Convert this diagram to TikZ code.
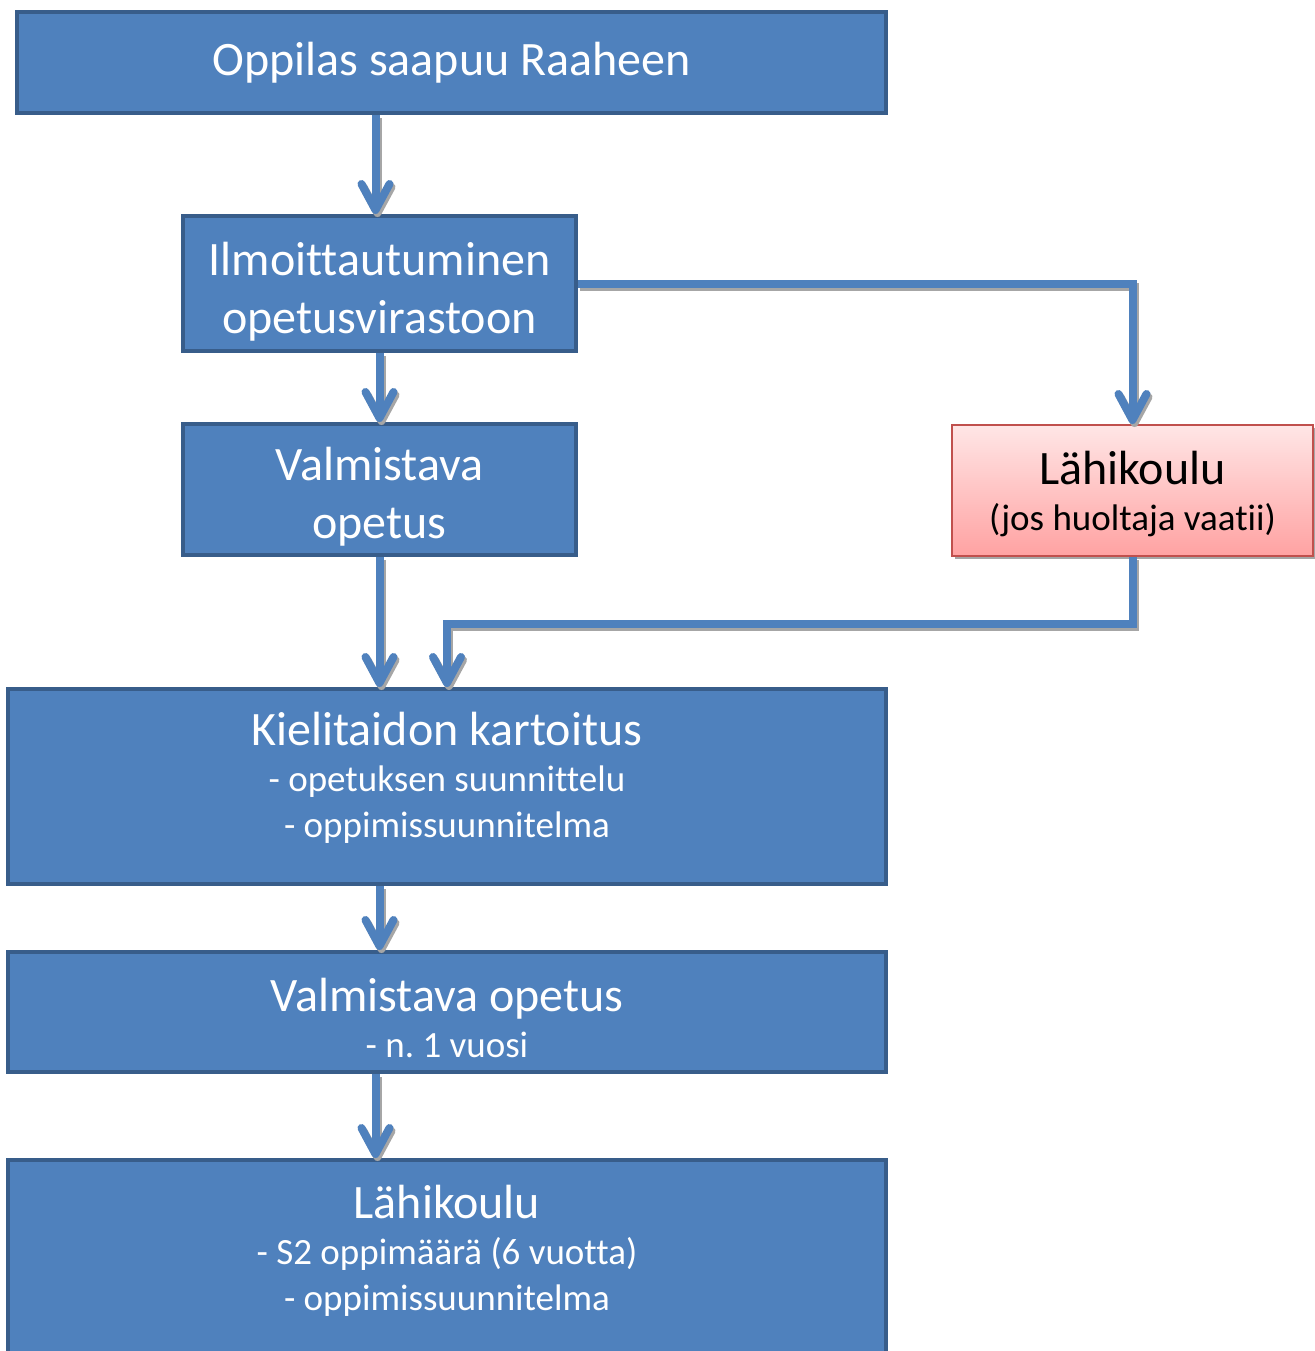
\documentclass[tikz,border=0pt]{standalone}
\usepackage{fontspec}
\setmainfont[RawFeature={-liga;-clig;-calt;-dlig}]{Carlito}
\usetikzlibrary{arrows.meta,shadows}
\frenchspacing
\definecolor{boxblue}{HTML}{4F81BD}
\definecolor{boxedge}{HTML}{385D8A}
\definecolor{redtop}{HTML}{FFE6E6}
\definecolor{redbot}{HTML}{FFA2A2}
\definecolor{rededge}{HTML}{C0504D}
\newcommand{\bigtxt}{\fontsize{24}{29}\selectfont}
\newcommand{\subtxt}{\fontsize{18.5}{23}\selectfont}
\tikzset{
  box/.style={draw=boxedge, line width=2pt, fill=boxblue, text=white, align=center, inner sep=0pt, font=\bigtxt},
  tight/.style={font=\fontsize{24}{23}\selectfont},
  lift/.style={text depth=0pt, text height=#1},
  redbox/.style={draw=rededge, line width=1pt, top color=redtop, bottom color=redbot, text=black, align=center, inner sep=0pt, font=\bigtxt,
    drop shadow={shadow xshift=1.5pt, shadow yshift=-1.5pt, fill=black!35, opacity=1}},
  conn/.style={draw=boxblue, line width=4pt, -{Straight Barb[length=13pt,width=14pt,round]}},
  shade/.style={conn, draw=black!35, transform canvas={shift={(1pt,-1.5pt)}}}
}
\begin{document}
\begin{tikzpicture}[x=0.5pt,y=-0.5pt]
    \useasboundingbox (0,0) rectangle (1315,1351);
    % boxes
    \node[box, minimum width=434.5pt, minimum height=50.5pt] (start) at (451.5,62.5) {Oppilas saapuu Raaheen};
    \node[box, lift=49.5pt, minimum width=196.5pt, minimum height=67.5pt] (ilmo) at (379.5,283.5) {Ilmoittautuminen\\opetusvirastoon};
    \node[box, lift=48.5pt, minimum width=196.5pt, minimum height=65.5pt] (valm) at (379.5,489.5) {Valmistava\\opetus};
    \node[redbox, tight, lift=39.5pt, minimum width=180.5pt, minimum height=65.5pt] (lahi) at (1132.5,490.5) {Lähikoulu\\\subtxt (jos huoltaja vaatii)};
    \node[box, tight, lift=50.5pt, minimum width=439pt, minimum height=97.5pt] (kart) at (447,786.5) {Kielitaidon kartoitus\\\subtxt - opetuksen suunnittelu\\\subtxt - oppimissuunnitelma};
    \node[box, tight, lift=45pt, minimum width=439pt, minimum height=60pt] (valm2) at (447,1012) {Valmistava opetus\\\subtxt - n. 1 vuosi};
    \node[box, tight, lift=52pt, minimum width=439pt, minimum height=98pt] (koulu) at (447,1258) {Lähikoulu\\\subtxt - S2 oppimäärä (6 vuotta)\\\subtxt - oppimissuunnitelma};
    % connectors, shadow first
    \coordinate (a1) at ([xshift=-2pt]ilmo.north);
    \foreach \s in {shade,conn} {
    \draw[\s] (start.south -| a1) -- (a1);
    \draw[\s] (ilmo) -- (valm);
    \draw[\s] (ilmo.east) -| (lahi.north);
    \draw[\s] (valm.south) -- (valm.south |- kart.north);
    \draw[\s] (lahi.south) -- ++(0,67) -| (kart.north);
    \draw[\s] (kart.south -| valm.south) -- (valm2.north -| valm.south);
    \draw[\s] (valm2.south -| a1) -- (koulu.north -| a1);
    }
\end{tikzpicture}
\end{document}
